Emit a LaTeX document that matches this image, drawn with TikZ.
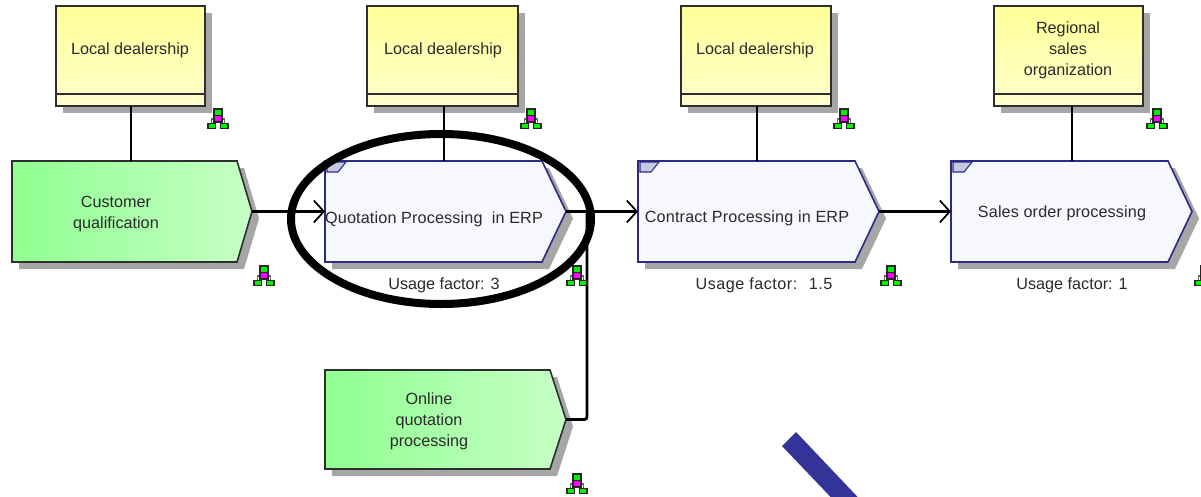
\documentclass[tikz,border=0pt]{standalone}
\usepackage{fontspec}
\setmainfont{Liberation Sans}
\usetikzlibrary{arrows.meta}
\definecolor{txt}{HTML}{2A2A2A}
\definecolor{shadowgray}{HTML}{A6A6A6}
\definecolor{darkedge}{HTML}{2E2E2E}
\definecolor{blueedge}{HTML}{2B2B85}
\definecolor{bluefill}{HTML}{F6F8FD}
\definecolor{markfill}{HTML}{C3CBE0}
\definecolor{bar}{HTML}{333399}
\definecolor{greenL}{HTML}{90FF90}
\definecolor{greenR}{HTML}{C6FFC6}
\definecolor{yellowT}{HTML}{FFFF99}
\definecolor{yellowB}{HTML}{FFFFCC}
\definecolor{icongreen}{HTML}{00F000}
\definecolor{iconpink}{HTML}{FF00FF}
\tikzset{
  x=0.75pt,y=-0.75pt,
  label text/.style={font=\fontsize{12.15pt}{15.75pt}\selectfont,text=txt,align=center,inner sep=0pt,outer sep=0pt},
  shadowfill/.style={fill=shadowgray,draw=none},
  greenfunc/.style={left color=greenL,right color=greenR,draw=darkedge,line width=1.2pt},
  bluefunc/.style={fill=bluefill,draw=blueedge,line width=1.2pt},
  orgbox/.style={top color=yellowT,bottom color=yellowB,draw=darkedge,line width=1.3pt},
  link/.style={draw=black,line width=2.2pt},
  flow/.style={draw=black,line width=2.2pt,-{Straight Barb[length=7.5pt,width=16.5pt,line width=1.3pt]}},
  iconpart/.style={draw=black!85,line width=1.05pt},
  iconline/.style={draw=black!60,line width=0.8pt},
}
% name, x1, x2 (body end), tip x, y1, y2, style
\newcommand{\funcshape}[7]{%
  \pgfmathsetmacro{\ymid}{(#5+#6)/2}%
  \fill[shadowfill] ({#2+7},{#5+7}) -- ({#3+7},{#5+7}) -- ({#4+7},{\ymid+7}) -- ({#3+7},{#6+7}) -- ({#2+7},{#6+7}) -- cycle;
  \path[#7] (#2,#5) -- (#3,#5) -- (#4,\ymid) -- (#3,#6) -- (#2,#6) -- cycle;
  \coordinate (#1-tip) at (#4,\ymid);
  \coordinate (#1-west) at (#2,\ymid);
  \coordinate (#1-top) at (#2,#5);
}
% name, x1, x2, y1, y2, divider y
\newcommand{\orgshape}[6]{%
  \fill[shadowfill] ({#2+7},{#4+7}) rectangle ({#3+7},{#5+7});
  \path[orgbox] (#2,#4) rectangle (#3,#5);
  \draw[darkedge,line width=1.1pt] (#2,#6) -- (#3,#6);
  \coordinate (#1-bottom) at (#2,#5);
}
\newcommand{\markcorner}[2]{%
  \path[fill=markfill,draw=blueedge,line width=0.8pt] ({#1+2},{#2+1}) -- ({#1+21},{#2+1}) -- ({#1+13},{#2+11}) -- ({#1+2},{#2+11}) -- cycle;
}
% centre x, top y
\newcommand{\hier}[2]{%
  \draw[iconline] ({#1-6.5},{#2+16}) -- ({#1-6.5},{#2+11}) -- ({#1+6.5},{#2+11}) -- ({#1+6.5},{#2+16});
  \path[iconpart,fill=icongreen] ({#1-4},{#2+1}) rectangle ({#1+4},{#2+7.5});
  \path[iconpart,fill=iconpink] ({#1-4},{#2+7.5}) rectangle ({#1+4},{#2+14});
  \path[iconpart,fill=icongreen] ({#1-10},{#2+15.5}) rectangle ({#1-2.5},{#2+20.5});
  \path[iconpart,fill=icongreen] ({#1+2.5},{#2+15.5}) rectangle ({#1+10},{#2+20.5});
}
\begin{document}
\begin{tikzpicture}
\clip (0,0) rectangle (1201,496);
\fill[white] (0,0) rectangle (1201,496);

% organisational units
\orgshape{o1}{56}{205}{6}{106}{94}
\orgshape{o2}{367}{518}{6}{106}{94}
\orgshape{o3}{681}{831}{6}{106}{94}
\orgshape{o4}{994}{1143}{6}{106}{94}
\node[label text] (t1) at (130,50.3) {Local dealership};
\node[label text] (t2) at (443,50.3) {Local dealership};
\node[label text] (t3) at (755,50.3) {Local dealership};
\node[label text] (t4) at (1068,50.2) {Regional\\sales\\organization};

% functions
\funcshape{f1}{12}{237}{252}{161}{262}{greenfunc}
\funcshape{f2}{325}{542}{566}{161}{262}{bluefunc}
\funcshape{f3}{638}{855}{879}{161}{262}{bluefunc}
\funcshape{f4}{951}{1168}{1192}{161}{262}{bluefunc}
\funcshape{f5}{325}{550}{566}{370}{469}{greenfunc}
\markcorner{325}{161}
\markcorner{638}{161}
\markcorner{951}{161}

% connectors
\coordinate (j1) at (131,130);
\coordinate (j2) at (444,130);
\coordinate (j3) at (757,130);
\coordinate (j4) at (1072,130);
\draw[link] (j1 |- o1-bottom) -- (j1 |- f1-top);
\draw[link] (j2 |- o2-bottom) -- (j2 |- f2-top);
\draw[link] (j3 |- o3-bottom) -- (j3 |- f3-top);
\draw[link] (j4 |- o4-bottom) -- (j4 |- f4-top);
\draw[flow] (f1-tip) -- (f2-west);
\draw[flow] (f2-tip) -- (f3-west);
\draw[flow] (f3-tip) -- (f4-west);
\coordinate (j5) at (587,300);
\draw[link,rounded corners=2pt] (f5-tip) -| (j5 |- f2-tip);

% labels
\node[label text] (l1) at (116,214) {Customer\\qualification};
\node[label text] (l2) at (434,219) {\addfontfeature{LetterSpace=0.9}Quotation Processing \ in ERP};
\node[label text] (l3) at (747,218) {\addfontfeature{LetterSpace=1}Contract Processing in ERP};
\node[label text] (l4) at (1062,213.2) {\addfontfeature{LetterSpace=0.8}Sales order processing};
\node[label text] (l5) at (429,421.2) {Online\\quotation\\processing};
\node[label text] (u2) at (444,285.2) {Usage factor: 3};
\node[label text] (u3) at (764,285.2) {\addfontfeature{LetterSpace=3}Usage factor: \ 1.5};
\node[label text] (u4) at (1072,285.2) {Usage factor: 1};

% assignment icons
\hier{218}{108}
\hier{531}{108}
\hier{844}{108}
\hier{1157}{108}
\hier{264}{265}
\hier{577}{265}
\hier{891}{265}
\hier{1205}{265}
\hier{577}{473}

% highlight
\draw[black,line width=6pt] (441,219) ellipse [x radius=150,y radius=85];
\fill[bar] (782,446) -- (796,432) -- (870,510) -- (843,510) -- cycle;
\end{tikzpicture}
\end{document}
